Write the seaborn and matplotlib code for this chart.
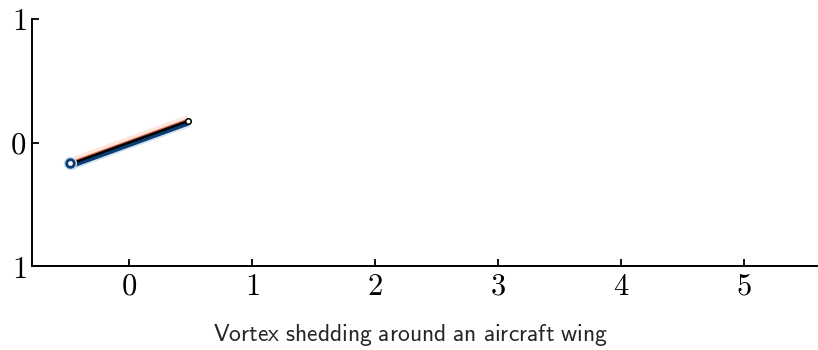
import numpy as np
import pandas as pd
import matplotlib
matplotlib.use("Agg")
import matplotlib.pyplot as plt
import seaborn as sns

# Flat-plate wing: chord end points (leading edge first)
chord_x = [-0.47, 0.47]
chord_y = [-0.171, 0.171]

x_ticks = [0, 1, 2, 3, 4, 5]
x_tick_labels = ["0", "1", "2", "3", "4", "5"]
y_ticks = [-1, 0, 1]
y_tick_labels = ["1", "0", "1"]

caption = "Vortex shedding around an aircraft wing"

sns.set_theme(style="ticks")
plt.rcParams["mathtext.fontset"] = "cm"
plt.rcParams["font.family"] = ["DejaVu Sans"]

fig = plt.figure(figsize=(8.18, 3.5), dpi=100)
ax = fig.add_axes([32 / 818, 1 - 266 / 350, 1 - 32 / 818, 247 / 350])

wing = pd.DataFrame({"x": chord_x, "y": chord_y})
dx = chord_x[1] - chord_x[0]
dy = chord_y[1] - chord_y[0]
length = np.hypot(dx, dy)
nx, ny = -dy / length, dx / length   # unit normal pointing to the suction side
px = 1 / 123.0                         # one pixel in data units


def shifted(frame, n_px):
    return pd.DataFrame({"x": frame["x"] + nx * n_px * px,
                         "y": frame["y"] + ny * n_px * px})


# vorticity sheets: negative below, positive above
sns.lineplot(data=shifted(wing, -3.4), x="x", y="y", ax=ax, color="#cfe2f2",
             linewidth=4, solid_capstyle="round", sort=False)
sns.lineplot(data=shifted(wing, 3.0), x="x", y="y", ax=ax, color="#fde6dc",
             linewidth=4, solid_capstyle="round", sort=False)
sns.lineplot(data=shifted(wing, -2.2), x="x", y="y", ax=ax, color="#0b3c74",
             linewidth=3.2, solid_capstyle="round", sort=False)
sns.lineplot(data=shifted(wing, 1.6), x="x", y="y", ax=ax, color="#e3604a",
             linewidth=1.1, solid_capstyle="round", sort=False)
sns.lineplot(data=wing, x="x", y="y", ax=ax, color="black",
             linewidth=1.8, solid_capstyle="round", sort=False)

# leading-edge vortex and trailing-edge roll-up
lead = pd.DataFrame({"x": [chord_x[0] - 0.012], "y": [chord_y[0] + 0.006]})
trail = pd.DataFrame({"x": [chord_x[1] + 0.01], "y": [chord_y[1] + 0.004]})
sns.scatterplot(data=lead, x="x", y="y", ax=ax, s=50, color="white",
                edgecolor="#c6dcef", linewidth=2.5, zorder=4)
sns.scatterplot(data=lead, x="x", y="y", ax=ax, s=30, color="white",
                edgecolor="#0b3c74", linewidth=2.0, zorder=5)
sns.scatterplot(data=trail, x="x", y="y", ax=ax, s=16, color="white",
                edgecolor="black", linewidth=1.1, zorder=5)

ax.set_xlim(-0.79, 5.6)
ax.set_ylim(-1, 1)
ax.set_xticks(x_ticks)
ax.set_xticklabels([f"${t}$" for t in x_tick_labels])
ax.set_yticks(y_ticks)
ax.set_yticklabels([f"${t}$" for t in y_tick_labels])
ax.set_xlabel("")
ax.set_ylabel("")
ax.tick_params(direction="in", length=5, width=1.3, labelsize=22, pad=4,
               colors="black")
for side in ("top", "right"):
    ax.spines[side].set_visible(False)
for side in ("left", "bottom"):
    ax.spines[side].set_linewidth(1.4)
    ax.spines[side].set_color("black")
ax.set_facecolor("white")

fig.text(410 / 818, 1 - 335 / 350, r"$\mathsf{" + caption.replace(" ", r"\ ") + "}$",
         ha="center", va="center", fontsize=17)

fig.savefig("out.png", dpi=100, facecolor="white")
